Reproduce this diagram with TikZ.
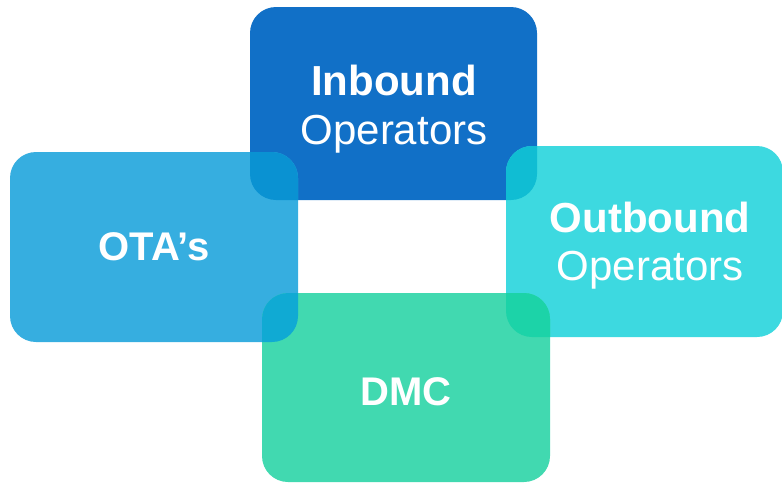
\documentclass[tikz,border=0pt]{standalone}
\usepackage{fontspec}
\setmainfont{Liberation Sans}
\definecolor{cInb}{HTML}{1170C7}
\definecolor{cOta}{HTML}{36AEE0}
\definecolor{cOut}{HTML}{3DD9E0}
\definecolor{cDmc}{HTML}{41D9B0}
\definecolor{cInbOta}{HTML}{0A92D2}
\definecolor{cInbOut}{HTML}{10BDD3}
\definecolor{cOtaDmc}{HTML}{10AAD3}
\definecolor{cDmcOut}{HTML}{1CD3A8}
\tikzset{
  card/.style={rounded corners=26pt},
  lbl/.style={text=white, anchor=base, inner sep=0pt},
  bigb/.style={lbl, font=\fontsize{42}{48}\selectfont\bfseries},
  bigr/.style={lbl, font=\fontsize{42}{48}\selectfont},
}
\begin{document}
\begin{tikzpicture}[x=1pt,y=-1pt]
\useasboundingbox (0,0) rectangle (782,483);
% base cards
\fill[card, cInb] (250,7) rectangle (537,200);
\fill[card, cOta] (10,152) rectangle (298,342);
\fill[card, cOut] (506,146) rectangle (783,337);
\fill[card, cDmc] (262,293) rectangle (550,482);
% overlaps
\begin{scope}
  \clip[card] (250,7) rectangle (537,200);
  \fill[card, cInbOta] (10,152) rectangle (298,342);
  \fill[card, cInbOut] (506,146) rectangle (783,337);
\end{scope}
\begin{scope}
  \clip[card] (262,293) rectangle (550,482);
  \fill[card, cOtaDmc] (10,152) rectangle (298,342);
  \fill[card, cDmcOut] (506,146) rectangle (783,337);
\end{scope}
% labels
\node[bigb] (inb1) at (394,95) {Inbound};
\node[bigr] (inb2) at (394,144) {Operators};
\node[bigb] (out1) at (650,232) {Outbound};
\node[bigr] (out2) at (650,280) {Operators};
\node[bigb, font=\fontsize{40}{46}\selectfont\bfseries] (ota) at (154,260) {OTA’s};
\node[bigb, font=\fontsize{40}{46}\selectfont\bfseries] (dmc) at (406,405) {DMC};
\end{tikzpicture}
\end{document}
